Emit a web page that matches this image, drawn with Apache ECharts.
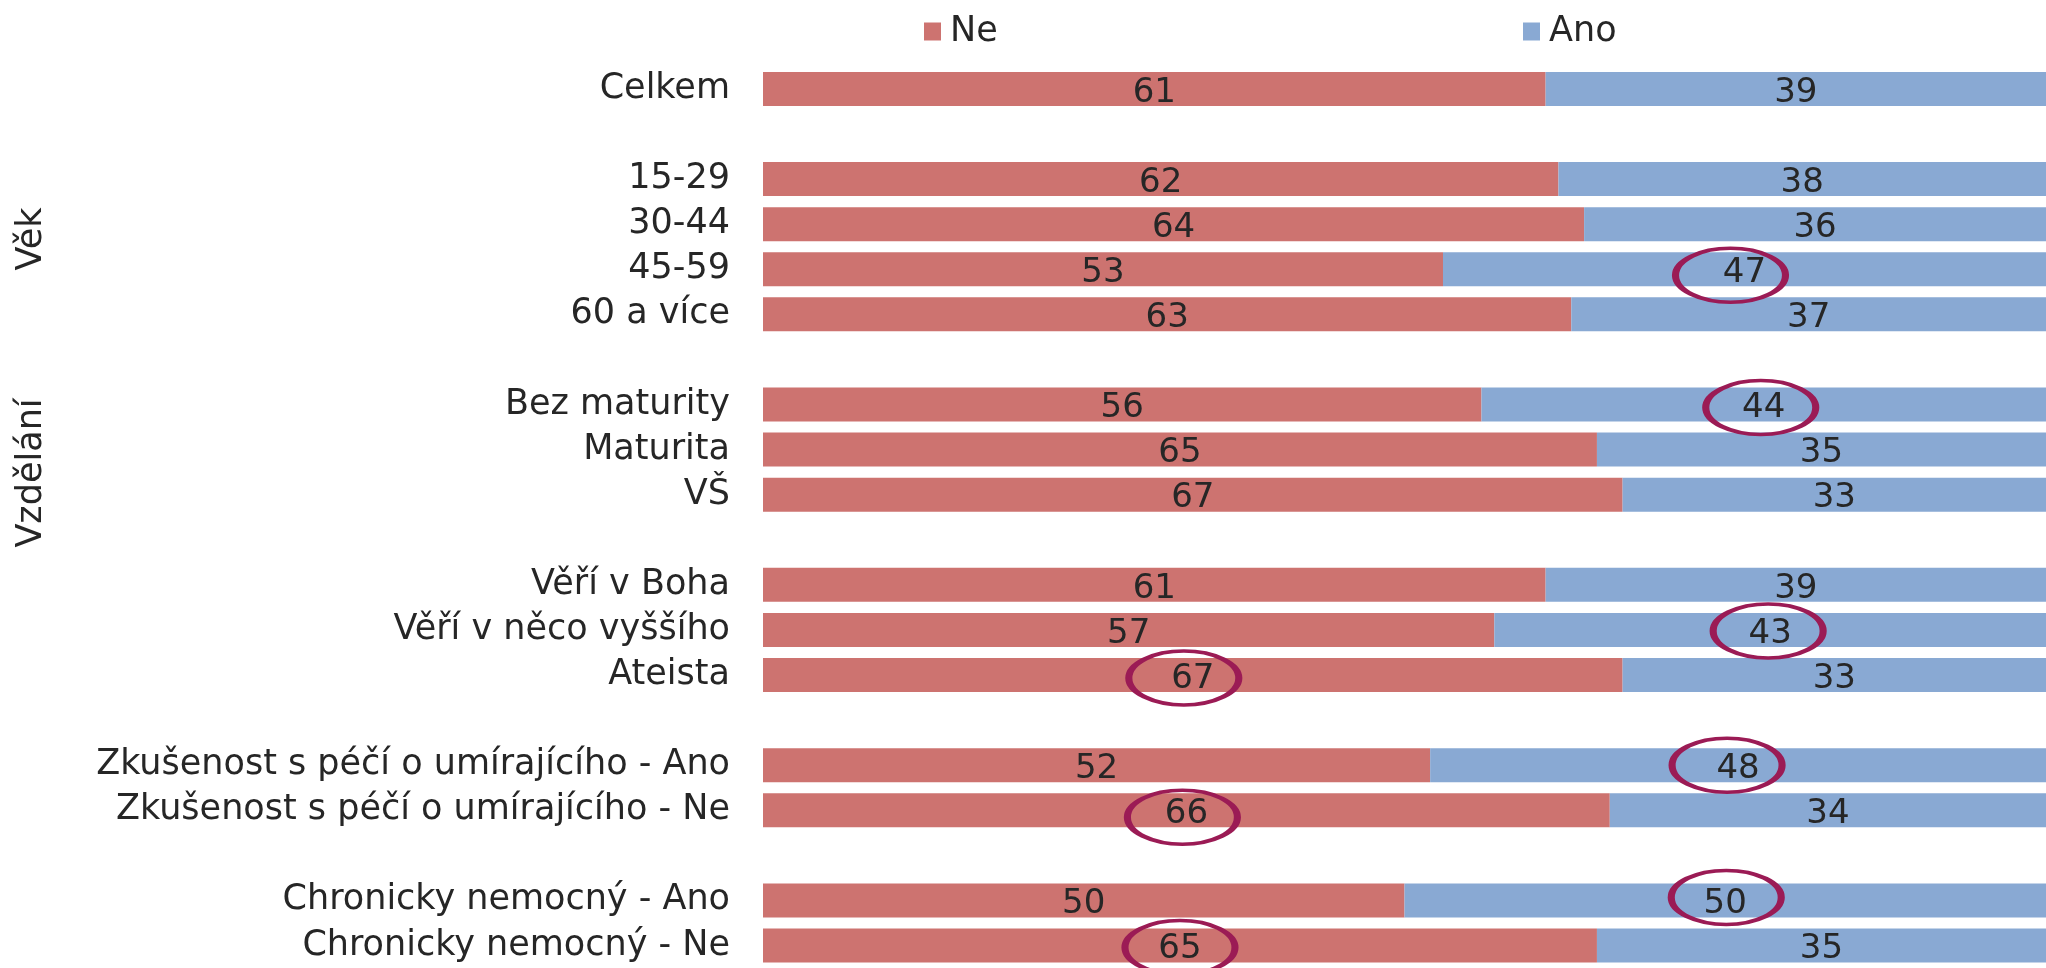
<!DOCTYPE html>
<html>
<head>
<meta charset="utf-8">
<script src="https://cdn.jsdelivr.net/npm/echarts@6/dist/echarts.min.js"></script>
<style>
html,body{margin:0;padding:0;background:#fff;}
#chart{width:2046px;height:968px;}
</style>
</head>
<body>
<div id="chart"></div>
<script>
// Categories (empty strings are spacer rows between groups)
const categories = [
  'Celkem', '',
  '15-29', '30-44', '45-59', '60 a více', '',
  'Bez maturity', 'Maturita', 'VŠ', '',
  'Věří v Boha', 'Věří v něco vyššího', 'Ateista', '',
  'Zkušenost s péčí o umírajícího - Ano', 'Zkušenost s péčí o umírajícího - Ne', '',
  'Chronicky nemocný - Ano', 'Chronicky nemocný - Ne'
];
const ne  = [61, null, 62, 64, 53, 63, null, 56, 65, 67, null, 61, 57, 67, null, 52, 66, null, 50, 65];
const ano = [39, null, 38, 36, 47, 37, null, 44, 35, 33, null, 39, 43, 33, null, 48, 34, null, 50, 35];
const seriesNames = ['Ne', 'Ano'];
// Highlighted (circled) values: [row index, series]
const highlights = [
  [4, 'Ano'], [7, 'Ano'], [12, 'Ano'], [13, 'Ne'],
  [15, 'Ano'], [16, 'Ne'], [18, 'Ano'], [19, 'Ne']
];
const groupTitles = ['Věk', 'Vzdělání'];

const FONT = 'DejaVu Sans';
const TXT = '#262626';
const RED = '#CD7370';
const BLUE = '#89A9D3';
const RING = '#9B1B55';

// small hand-placement offsets of the drawn ellipses
const ringOffsets = [[-14, 6], [-3, 3], [-2, 1], [-9, 3], [-11, 0], [-4, 7], [1, -3], [0, 2]];

const markData = highlights.map((h, i) => {
  const idx = h[0];
  const mid = h[1] === 'Ne' ? ne[idx] / 2 : ne[idx] + ano[idx] / 2;
  return { coord: [mid, idx], symbolOffset: ringOffsets[i] };
});

const chart = echarts.init(document.getElementById('chart'), null, {renderer: 'canvas'});
const labelStyle = {
  show: true, position: 'inside', fontFamily: FONT, fontSize: 34, color: TXT, offset: [0, 4]
};
const legendText = {fontFamily: FONT, fontSize: 35, color: TXT, padding: [0, 0, 0, 4]};
chart.setOption({
  animation: false,
  textStyle: {fontFamily: FONT},
  legend: [
    {
      data: ['Ne'], left: 919, top: 9, itemWidth: 17, itemHeight: 18,
      icon: 'rect', itemStyle: {borderWidth: 0}, textStyle: legendText
    },
    {
      data: ['Ano'], left: 1518, top: 9, itemWidth: 17, itemHeight: 18,
      icon: 'rect', itemStyle: {borderWidth: 0}, textStyle: legendText
    }
  ],
  grid: {left: 763, right: -4, top: 66.4, bottom: -3.6, containLabel: false},
  xAxis: {
    type: 'value', min: 0, max: 100, show: false
  },
  yAxis: {
    type: 'category', data: categories, inverse: true,
    axisLine: {show: false}, axisTick: {show: false}, splitLine: {show: false},
    axisLabel: {
      interval: 0, hideOverlap: false,
      fontFamily: FONT, fontSize: 35, color: TXT, margin: 33, padding: [12, 0, 0, 0]
    }
  },
  series: [
    {
      name: seriesNames[0], type: 'bar', stack: 'total', data: ne,
      barWidth: 34,
      itemStyle: {color: RED},
      label: labelStyle,
      markPoint: {
        symbol: 'path://M0,25 A50,25 0 1,1 100,25 A50,25 0 1,1 0,25 Z',
        symbolSize: [110, 54],
        itemStyle: {color: 'rgba(0,0,0,0)', borderColor: RING, borderWidth: 5},
        label: {show: false},
        data: markData,
        z: 10
      }
    },
    {
      name: seriesNames[1], type: 'bar', stack: 'total', data: ano,
      barWidth: 34,
      itemStyle: {color: BLUE},
      label: labelStyle
    }
  ],
  graphic: [
    {
      type: 'text', x: 32, y: 239, rotation: Math.PI / 2,
      style: {text: groupTitles[0], fontFamily: FONT, fontSize: 35, fill: TXT,
              textAlign: 'center', textVerticalAlign: 'middle'}
    },
    {
      type: 'text', x: 32, y: 473, rotation: Math.PI / 2,
      style: {text: groupTitles[1], fontFamily: FONT, fontSize: 35, fill: TXT,
              textAlign: 'center', textVerticalAlign: 'middle'}
    }
  ]
});
</script>
</body>
</html>
